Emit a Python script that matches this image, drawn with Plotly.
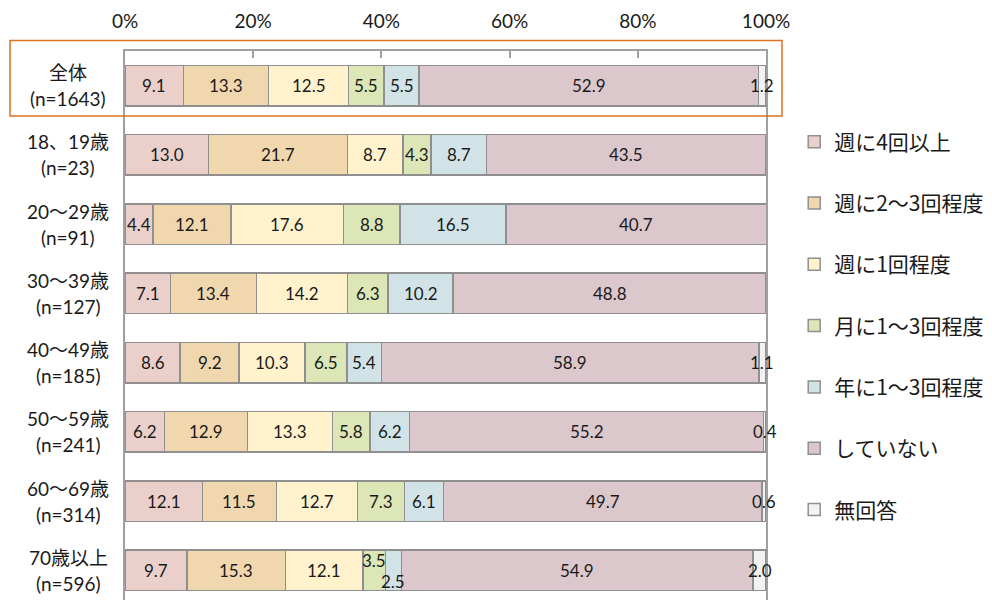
import plotly.graph_objects as go

categories = ["全体", "18、19歳", "20～29歳", "30～39歳", "40～49歳", "50～59歳", "60～69歳", "70歳以上"]
sample_sizes = ["(n=1643)", "(n=23)", "(n=91)", "(n=127)", "(n=185)", "(n=241)", "(n=314)", "(n=596)"]

series_names = ["週に4回以上", "週に2～3回程度", "週に1回程度", "月に1～3回程度", "年に1～3回程度", "していない", "無回答"]
s_4plus = [9.1, 13.0, 4.4, 7.1, 8.6, 6.2, 12.1, 9.7]
s_2to3w = [13.3, 21.7, 12.1, 13.4, 9.2, 12.9, 11.5, 15.3]
s_1w = [12.5, 8.7, 17.6, 14.2, 10.3, 13.3, 12.7, 12.1]
s_1to3m = [5.5, 4.3, 8.8, 6.3, 6.5, 5.8, 7.3, 3.5]
s_1to3y = [5.5, 8.7, 16.5, 10.2, 5.4, 6.2, 6.1, 2.5]
s_none = [52.9, 43.5, 40.7, 48.8, 58.9, 55.2, 49.7, 54.9]
s_noans = [1.2, None, None, None, 1.1, 0.4, 0.6, 2.0]
series_values = [s_4plus, s_2to3w, s_1w, s_1to3m, s_1to3y, s_none, s_noans]

x_ticks = [0, 20, 40, 60, 80, 100]
x_tick_labels = ["0%", "20%", "40%", "60%", "80%", "100%"]

colors = ["#EBCFCB", "#F1D7AD", "#FFF2CD", "#DCE6B6", "#D2E3E7", "#DBC7CC", "#F2F2F2"]

LAT = "Lato, 'Noto Sans CJK JP', sans-serif"
JP = "'Noto Sans CJK JP', sans-serif"

fig = go.Figure()
for name, vals, col in zip(series_names, series_values, colors):
    fig.add_trace(go.Bar(
        y=categories, x=[v if v is not None else 0 for v in vals], name=name, orientation="h",
        marker=dict(color=col, line=dict(color="#8F8F8F", width=1.5)),
        legendgroup=name, hoverinfo="skip",
    ))

annotations = []
# data labels
for ci, cat in enumerate(categories):
    cum = 0.0
    for si, vals in enumerate(series_values):
        v = vals[ci]
        if v is None:
            continue
        center = cum + v / 2
        cum += v
        yshift = 0
        if cat == "70歳以上" and si == 3:
            yshift = 10
        if cat == "70歳以上" and si == 4:
            yshift = -11
        annotations.append(dict(
            x=center, y=cat, xref="x", yref="y", text=f"{v:.1f}", showarrow=False,
            font=dict(family=LAT, size=17, color="#1A1A1A"), xanchor="center", yanchor="middle",
            yshift=yshift,
        ))
# category labels
for cat, n in zip(categories, sample_sizes):
    annotations.append(dict(x=-0.0889, y=cat, xref="paper", yref="y", text=cat, showarrow=False,
                            font=dict(family=LAT, size=19, color="#1A1A1A"), xanchor="center",
                            yanchor="middle", yshift=13))
    annotations.append(dict(x=-0.0889, y=cat, xref="paper", yref="y", text=n, showarrow=False,
                            font=dict(family=LAT, size=19, color="#1A1A1A"), xanchor="center",
                            yanchor="middle", yshift=-13))

fig.update_layout(
    width=992, height=600,
    margin=dict(l=125, r=226, t=51, b=0, autoexpand=False),
    barmode="stack", bargap=0.415,
    plot_bgcolor="white", paper_bgcolor="white",
    xaxis=dict(side="top", range=[0, 100], tickvals=x_ticks, ticktext=x_tick_labels,
               showgrid=False, zeroline=False, showline=True, linecolor="#A0A0A0", linewidth=1.5,
               ticks="inside", ticklen=7, tickcolor="#A0A0A0", tickwidth=1.5,
               tickfont=dict(family=LAT, size=19, color="#1A1A1A"), ticklabelstandoff=14),
    yaxis=dict(type="category", range=[7.43, -0.5], showticklabels=False, showgrid=False,
               zeroline=False, showline=True, mirror=True, linecolor="#A0A0A0", linewidth=1.5),
    legend=dict(x=1.044, xanchor="left", y=0.8715, yanchor="top", traceorder="grouped",
                tracegroupgap=31, font=dict(family=JP, size=21, color="#1A1A1A"),
                bgcolor="rgba(0,0,0,0)"),
    annotations=annotations,
    shapes=[dict(type="rect", xref="paper", yref="paper", x0=-0.1794, x1=1.025, y0=0.8816, y1=1.019,
                 line=dict(color="#E0701F", width=1.5), fillcolor="rgba(0,0,0,0)")],
)

fig.write_html("out.html", config={"displayModeBar": False},
               post_script="document.body.style.margin='0px';")
